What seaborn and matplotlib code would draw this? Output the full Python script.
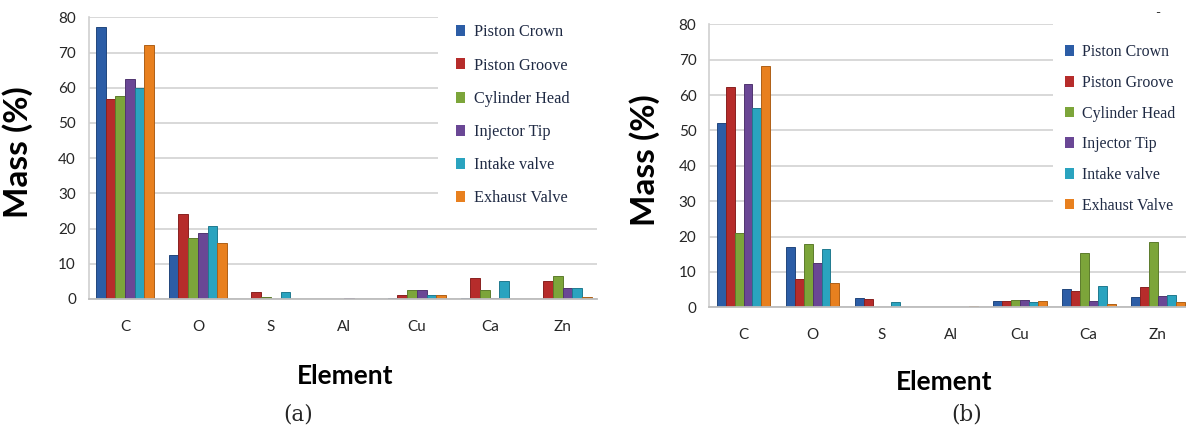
import numpy as np
import pandas as pd
import matplotlib
matplotlib.use("Agg")
import matplotlib.pyplot as plt
import matplotlib.colors as mcolors
import seaborn as sns
from matplotlib.patches import Rectangle

# categories
elements = ["C", "O", "S", "Al", "Cu", "Ca", "Zn"]
parts = ["Piston Crown", "Piston Groove", "Cylinder Head",
         "Injector Tip", "Intake valve", "Exhaust Valve"]

# panel (a) - mass % per part, in element order
crown_a = [77.3, 12.5, 0.0, 0.0, 0.2, 0.2, 0.0]
groove_a = [56.9, 24.1, 2.0, 0.1, 1.1, 6.1, 5.1]
head_a = [57.7, 17.4, 0.7, 0.0, 2.6, 2.5, 6.6]
injector_a = [62.6, 18.8, 0.0, 0.3, 2.5, 0.2, 3.0]
intake_a = [59.9, 20.7, 2.1, 0.1, 1.1, 5.1, 3.0]
exhaust_a = [72.0, 16.0, 0.1, 0.0, 1.0, 0.0, 0.7]

# panel (b)
crown_b = [52.1, 17.1, 2.5, 0.0, 1.8, 5.1, 3.0]
groove_b = [62.3, 7.9, 2.3, 0.0, 1.8, 4.7, 5.8]
head_b = [20.9, 17.9, 0.0, 0.0, 2.2, 15.3, 18.5]
injector_b = [63.0, 12.6, 0.0, 0.0, 2.2, 1.8, 3.2]
intake_b = [56.2, 16.6, 1.6, 0.0, 1.5, 6.0, 3.5]
exhaust_b = [68.3, 6.8, 0.0, 0.5, 1.9, 0.9, 1.5]

colors = ["#2C5DA6", "#B62C2B", "#7CA53A", "#6A4795", "#2AA3BF", "#E8801F"]


def to_long(series):
    rows = []
    for part, vals in zip(parts, series):
        for el, v in zip(elements, vals):
            rows.append({"Element": el, "Part": part, "Mass": v})
    return pd.DataFrame(rows)


df_a = to_long([crown_a, groove_a, head_a, injector_a, intake_a, exhaust_a])
df_b = to_long([crown_b, groove_b, head_b, injector_b, intake_b, exhaust_b])

sns.set_style("white")
plt.rcParams["font.family"] = ["Lato", "DejaVu Sans"]

fig = plt.figure(figsize=(11.86, 4.34), dpi=100)
ax_a = fig.add_axes([88.5 / 1186, 1 - 299 / 434, 508.5 / 1186, 281.7 / 434])
ax_b = fig.add_axes([709 / 1186, 1 - 307.3 / 434, 477 / 1186, 283 / 434])


def draw_panel(ax, df, width, xmax, cut_x, leg_xy, leg_fs, leg_space, ylab_xy, xlab_xy):
    sns.barplot(data=df, x="Element", y="Mass", hue="Part", order=elements,
                hue_order=parts, palette=colors, width=width, gap=0,
                linewidth=0, saturation=1, ax=ax)
    # darker outline, a rough stand-in for the excel bevel look
    for cont, c in zip(ax.containers, colors):
        dark = np.array(mcolors.to_rgb(c)) * 0.75
        for bar in cont:
            bar.set_edgecolor(dark)
            bar.set_linewidth(0.7)

    ax.set_ylim(0, 80)
    ax.set_xlim(-0.5, xmax)
    ax.set_yticks(range(0, 81, 10))
    ax.set_axisbelow(True)
    ax.grid(axis="y", color="#D6D6D6", linewidth=1.3)
    ax.grid(axis="x", visible=False)
    for s in ["top", "right"]:
        ax.spines[s].set_visible(False)
    ax.spines["left"].set_color("#D0D0D0")
    ax.spines["bottom"].set_color("#BDBDBD")
    ax.spines["left"].set_linewidth(1.2)
    ax.spines["bottom"].set_linewidth(1.3)
    ax.tick_params(axis="y", length=4, color="#C8C8C8", pad=5, labelsize=11,
                   labelcolor="#262626")
    ax.tick_params(axis="x", length=0, pad=15, labelsize=11, labelcolor="#262626")

    # white area behind the legend hides the upper grid lines
    ax.add_patch(Rectangle((cut_x, 25 / 80), 1.2, 0.8, transform=ax.transAxes,
                           facecolor="white", edgecolor="none", zorder=0.8,
                           clip_on=False))

    handles, labels = ax.get_legend_handles_labels()
    ax.legend(handles, labels, loc="upper left", bbox_to_anchor=leg_xy,
              frameon=False, borderpad=0, borderaxespad=0,
              handlelength=0.55, handleheight=0.65, handletextpad=0.55,
              labelspacing=leg_space,
              prop={"family": "Liberation Serif", "size": leg_fs},
              labelcolor="#1F2A44")

    ax.set_ylabel("Mass (%)", fontsize=24, fontweight="bold", color="black")
    ax.yaxis.set_label_coords(*ylab_xy)
    ax.set_xlabel("Element", fontsize=19, fontweight="bold", color="black")
    ax.xaxis.set_label_coords(*xlab_xy)


draw_panel(ax_a, df_a, 0.8, 6.47, 0.687, (0.723, 0.975), 11.7, 1.06,
           (-0.109, 0.522), (0.504, -0.232))
draw_panel(ax_b, df_b, 0.78, 6.41, 0.721, (0.746, 0.93), 11.4, 0.93,
           (-0.103, 0.52), (0.493, -0.22))

fig.text(298 / 1186, 1 - 415 / 434, "(a)", ha="center", va="center",
         fontsize=15.5, family="DejaVu Serif")
fig.text(967 / 1186, 1 - 414 / 434, "(b)", ha="center", va="center",
         fontsize=15.5, family="DejaVu Serif")
fig.text(1158 / 1186, 1 - 13 / 434, "-", ha="center", va="center",
         fontsize=10, color="#333333")

fig.savefig("out.png", dpi=100)
